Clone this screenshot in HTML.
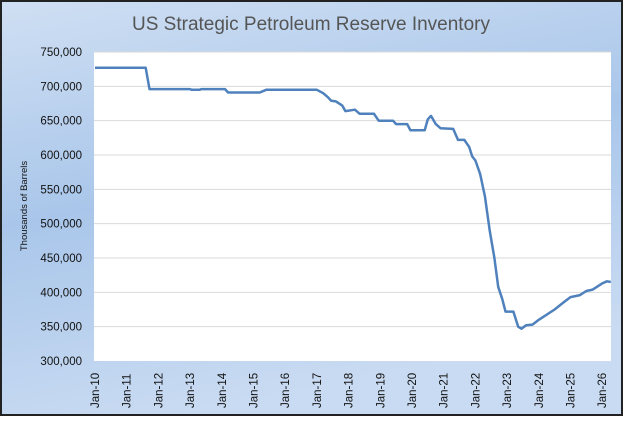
<!DOCTYPE html>
<html><head><style>
html,body{margin:0;padding:0;}
body{width:623px;height:416px;overflow:hidden;}
</style></head><body>
<svg width="623" height="416" xmlns="http://www.w3.org/2000/svg" font-family="Liberation Sans, sans-serif">
<defs>
<linearGradient id="bg" x1="0" y1="0" x2="0.3" y2="1">
<stop offset="0" stop-color="#cfdff3"/>
<stop offset="0.5" stop-color="#a9c6ea"/>
<stop offset="1" stop-color="#c9dbf2"/>
</linearGradient>
</defs>
<rect x="0" y="0" width="623" height="416" fill="#222"/>
<rect x="2" y="2" width="619" height="412" fill="url(#bg)"/>
<text x="311" y="30" text-anchor="middle" font-size="19" fill="#555">US Strategic Petroleum Reserve Inventory</text>
<rect x="94" y="52" width="517" height="309" fill="#fff"/>
<g id="grid" stroke="#d9d9d9" stroke-width="1"></g>
<g id="ylab" font-size="11.5" fill="#111" text-anchor="end"></g>
<g id="xlab" font-size="11.5" fill="#111"></g>
<text transform="translate(27,206) rotate(-90)" text-anchor="middle" font-size="9.5" fill="#111">Thousands of Barrels</text>
<path id="line" fill="none" stroke="#4f81bd" stroke-width="2.5" stroke-linejoin="round"/>
</svg>
<script>
var ns="http://www.w3.org/2000/svg";
function Y(v){return 361-(v-300)*309/450;}
function X(t){return 95+(t-2010)*31.7;}
var g=document.getElementById('grid'),yl=document.getElementById('ylab'),xl=document.getElementById('xlab');
for(var v=300;v<=750;v+=50){
 var y=Y(v);
 if(v>300){var l=document.createElementNS(ns,'line');l.setAttribute('x1',94);l.setAttribute('x2',611);l.setAttribute('y1',y);l.setAttribute('y2',y);g.appendChild(l);}
 var t=document.createElementNS(ns,'text');t.setAttribute('x',82);t.setAttribute('y',y+4);t.textContent=v+',000';yl.appendChild(t);
}
for(var yr=10;yr<=26;yr++){
 var x=X(2000+yr);
 var t=document.createElementNS(ns,'text');t.setAttribute('transform','translate('+(x+4)+',408) rotate(-90)');t.textContent='Jan-'+yr;xl.appendChild(t);
}
var d=[[2010,727],[2011.6,727],[2011.72,696],[2013,696],[2013.05,695],[2013.3,695],[2013.35,696],[2014.1,696],[2014.2,691],[2015.2,691],[2015.4,695],[2017,695],[2017.2,690],[2017.35,684],[2017.45,679],[2017.6,678],[2017.8,672],[2017.9,664],[2018.2,666],[2018.35,660],[2018.8,660],[2018.95,650],[2019.4,650],[2019.5,645],[2019.85,645],[2019.95,636],[2020.4,636],[2020.5,652],[2020.6,657],[2020.75,645],[2020.9,639],[2021.3,638],[2021.45,622],[2021.65,622],[2021.8,612],[2021.9,598],[2022.0,592],[2022.15,572],[2022.3,540],[2022.45,490],[2022.6,450],[2022.72,408],[2022.85,390],[2022.95,372],[2023.2,372],[2023.35,350],[2023.45,347],[2023.6,352],[2023.8,353],[2024.0,360],[2024.5,375],[2024.8,386],[2025.0,393],[2025.3,396],[2025.5,402],[2025.7,404],[2026.0,413],[2026.15,416],[2026.27,415]];
var p='';d.forEach(function(a,i){p+=(i?'L':'M')+X(a[0]).toFixed(1)+','+Y(a[1]).toFixed(1);});
document.getElementById('line').setAttribute('d',p);
</script>
</body></html>
